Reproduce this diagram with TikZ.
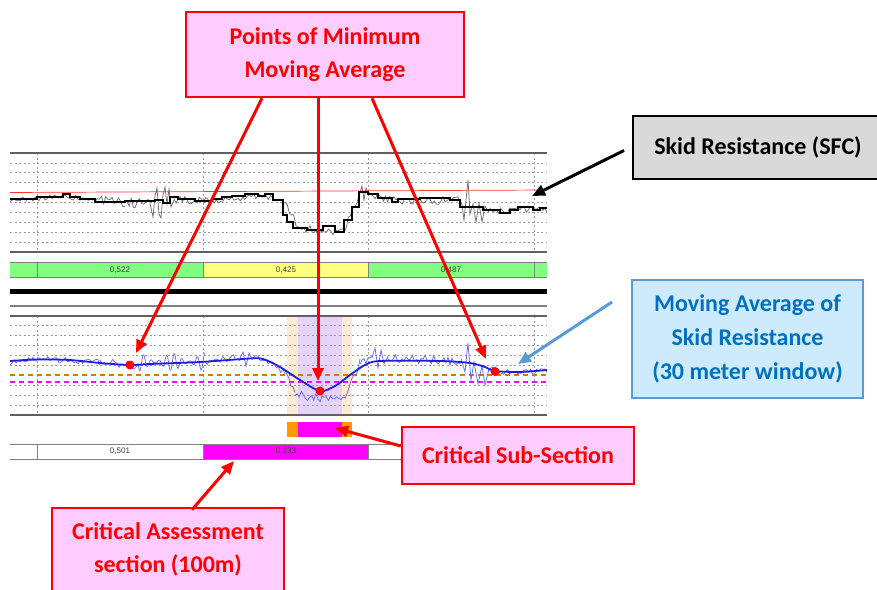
\documentclass[tikz,border=0pt]{standalone}
\usepackage{fontspec}
\setmainfont{Carlito}
\newfontfamily\barfont{Liberation Sans}
\usetikzlibrary{arrows.meta}
\definecolor{pinkfill}{HTML}{FFCCFF}
\definecolor{skidgray}{HTML}{D9D9D9}
\definecolor{mafill}{HTML}{CDEBFD}
\definecolor{maborder}{HTML}{5B9BD5}
\definecolor{matext}{HTML}{0070C0}
\definecolor{bargreen}{HTML}{80FF80}
\definecolor{baryellow}{HTML}{FFFF80}
\definecolor{magentafill}{HTML}{FF00FF}
\definecolor{orangefill}{HTML}{FF9900}
\definecolor{peach}{HTML}{FDEAD5}
\definecolor{lavender}{HTML}{E6D3FA}
\definecolor{dashorange}{HTML}{D07A10}
\definecolor{mablue}{HTML}{1E1EE0}
\definecolor{noiseblue}{HTML}{6A6AF0}
\definecolor{noisegraycol}{HTML}{6E6E6E}
\definecolor{gridgray}{HTML}{9A9A9A}
\definecolor{axisgray}{HTML}{606060}
\def\skidpath{(10,199)--(37,199)--(37,197)--(63,197)--(63,194)--(70,194)--(70,197)--(80,197)--(80,199)--(95,199)--(95,202)--(125,202)--(125,201)--(155,201)--(155,200)--(163,200)--(163,203)--(170,203)--(170,197)--(178,197)--(178,199)--(195,199)--(195,201)--(212,201)--(212,199)--(222,199)--(222,197)--(232,197)--(232,196)--(245,196)--(245,194)--(258,194)--(258,196)--(265,196)--(265,194)--(273,194)--(273,200)--(283,200)--(283,215)--(287,215)--(287,222)--(293,222)--(293,228)--(307,228)--(307,230)--(323,230)--(323,226)--(335,226)--(335,232)--(344,232)--(344,220)--(352,220)--(352,207)--(359,207)--(359,192)--(368,192)--(368,194)--(378,194)--(378,198)--(392,198)--(392,202)--(398,202)--(398,199)--(420,199)--(420,198)--(450,198)--(450,200)--(460,200)--(460,207)--(483,207)--(483,210)--(500,210)--(500,213)--(510,213)--(510,210)--(518,210)--(518,207)--(533,207)--(533,210)--(540,210)--(540,208)--(547,208)}
\begin{document}
\begin{tikzpicture}[x=1pt,y=-1pt,
  callout/.style={draw=red,line width=2.5pt,fill=pinkfill,text=red,
    font=\fontsize{24}{33}\selectfont\bfseries,align=center,inner sep=0pt},
  redarrow/.style={draw=red,line width=3pt,-{Triangle[length=13pt,width=11pt]}},
  gridline/.style={draw=gridgray,line width=0.8pt,dash pattern=on 2pt off 2.5pt},
  axisline/.style={draw=axisgray,line width=1.6pt},
  barcell/.style={draw=gray,line width=0.7pt},
  barlabel/.style={font=\barfont\fontsize{8}{9}\selectfont,text=black!75,inner sep=0pt},
  reddot/.style={fill=red,draw=none},
  noisegray/.style={draw=noisegraycol,line width=0.75pt},
  noiseb/.style={draw=noiseblue,line width=0.75pt}]
\useasboundingbox (0,0) rectangle (877,589);
\pgfmathsetseed{4242}

% ---------- panel 1 ----------
\foreach \yy in {163,172,182,202,212,222,232,242}
  \draw[gridline] (10,\yy) -- (547,\yy);
\foreach \xx in {37,203,368,534}
  \draw[gridline] (\xx,153) -- (\xx,252);
\draw[axisline] (10,153) -- (547,153);
\draw[axisline] (10,252) -- (547,252);
\draw[red!80,line width=0.7pt] (10,192.5) -- (547,190);
% gray raw data (noise around a base line)
\foreach \xa/\ya/\xb/\yb/\am in {10/200/37/199/2.5, 37/199/63/196/2.5, 63/196/95/199/3, 95/199/125/203/4, 125/203/150/203/5, 174/200/212/201/4, 212/201/258/196/3, 258/196/283/200/3, 283/200/298/226/4, 298/226/320/232/4, 320/232/344/231/4, 344/231/359/196/4, 369/195/398/201/4, 398/201/460/200/4, 488/211/518/209/4, 518/209/547/210/3}
{
  \pgfmathtruncatemacro\ns{(\xb-\xa)/2.2+2}
  \draw[noisegray] plot[domain=\xa:\xb,samples=\ns] (\x,{\ya+(\yb-\ya)*(\x-\xa)/(\xb-\xa)+\am*rand});
}
\draw[noisegray] (150,203) -- (151,208) -- (153,217) -- (155,196) -- (157,188) -- (159,214) -- (161,218) -- (163,195) -- (165,187) -- (167,204) -- (169,189) -- (171,207) -- (174,200);
\draw[noisegray] (359,196) -- (362,186) -- (364,200) -- (366,188) -- (369,195);
\draw[noisegray] (460,200) -- (462,205) -- (464,220) -- (466,200) -- (468,180) -- (470,214) -- (473,204) -- (476,222) -- (479,203) -- (482,222) -- (485,206) -- (488,211);
% black step line
\draw[black,line width=2.2pt,line join=miter] \skidpath;

% bar 1
\fill[bargreen] (10,262) rectangle (203,277);
\fill[baryellow] (203,262) rectangle (368,277);
\fill[bargreen] (368,262) rectangle (547,277);
\draw[barcell] (10,262) -- (547,262) (10,277) -- (547,277);
\foreach \xx in {37,203,368,534} \draw[barcell] (\xx,262) -- (\xx,277);
\node[barlabel] (l1) at (120,270) {0,522};
\node[barlabel] (l2) at (286,270) {0,425};
\node[barlabel] (l3) at (451,270) {0,487};

% separator lines
\draw[black,line width=5pt] (10,291.5) -- (547,291.5);
\draw[draw=gray,line width=1.2pt] (10,306) -- (547,306);

% ---------- panel 2 ----------
\fill[peach] (287,316) rectangle (352,415);
\fill[lavender] (298,316) rectangle (342,415);
\foreach \yy in {325,335,345,355,365,385,395,405}
  \draw[gridline] (10,\yy) -- (547,\yy);
\foreach \xx in {37,203,368,534}
  \draw[gridline] (\xx,316) -- (\xx,415);
\draw[axisline] (10,316) -- (547,316);
\draw[axisline] (10,415) -- (547,415);
\draw[dashorange,line width=1.4pt,dash pattern=on 5pt off 4pt] (10,375) -- (547,375);
\draw[magentafill,line width=2.2pt,dash pattern=on 5pt off 4pt] (10,382) -- (547,382);
% noisy moving data
\foreach \xa/\ya/\xb/\yb/\am in {10/362/37/359/3, 37/359/100/362/3, 100/362/138/366/4, 205/361/240/358/4, 252/359/270/360/4, 270/360/285/372/4, 285/372/295/394/4, 295/394/320/398/4.5, 320/398/345/397/4.5, 345/397/360/362/4, 360/362/372/358/4, 387/358/440/360/4.5, 440/360/462/362/4, 489/369/520/373/3.5, 520/373/547/370/3}
{
  \pgfmathtruncatemacro\ns{(\xb-\xa)/2.2+2}
  \draw[noiseb] plot[domain=\xa:\xb,samples=\ns] (\x,{\ya+(\yb-\ya)*(\x-\xa)/(\xb-\xa)+\am*rand});
}
\draw[noiseb] plot[domain=138:205,samples=68] (\x,{362+9*sin(47*\x)*(0.55+0.45*sin(11*\x))});
\draw[noiseb] (240,358) -- (243,352) -- (246,366) -- (249,353) -- (252,359);
\draw[noiseb] (372,358) -- (375,348) -- (378,368) -- (381,350) -- (384,364) -- (387,358);
\draw[noiseb] (462,362) -- (465,372) -- (468,343) -- (471,380) -- (474,362) -- (478,384) -- (482,366) -- (485,385) -- (489,369);
% smooth moving average
\draw[mablue,line width=1.8pt] plot[smooth] coordinates {(10,361) (37,359.5) (70,360) (100,363) (130,365) (150,364) (200,362) (250,358.5) (263,359) (280,367) (300,380) (320,391) (335,386) (350,375) (365,365) (380,361) (440,361) (470,363) (485,367) (495,371) (520,372) (547,370)};
% red dots
\fill[reddot] (130,365) circle (4.5pt);
\fill[reddot] (320,391) circle (4.5pt);
\fill[reddot] (495,371.5) circle (4.5pt);

% sub bar
\fill[orangefill] (287,422) rectangle (298,437);
\fill[magentafill] (298,422) rectangle (342,437);
\fill[orangefill] (342,422) rectangle (352,437);

% bar 2
\fill[white] (10,444) rectangle (547,459);
\fill[magentafill] (203,444) rectangle (368,459);
\draw[barcell] (10,444) -- (547,444) (10,459) -- (547,459);
\foreach \xx in {37,203,368,534} \draw[barcell] (\xx,444) -- (\xx,459);
\node[barlabel] (l4) at (120,451.5) {0,501};
\node[barlabel] (l5) at (286,451.5) {0,233};

% ---------- callouts ----------
\node[callout,minimum width=278pt,minimum height=85pt] (pmin) at (325,54.5) {Points of Minimum\\Moving Average};
\node[draw=black,line width=2pt,fill=skidgray,text=black,font=\fontsize{24}{33}\selectfont\bfseries,
  minimum width=250pt,minimum height=63pt,inner sep=0pt,anchor=west] (skid) at (632,147.5) {Skid Resistance (SFC)};
\node[draw=maborder,line width=2pt,fill=mafill,text=matext,font=\fontsize{24}{34}\selectfont\bfseries,
  align=center,minimum width=231pt,minimum height=118pt,inner sep=0pt] (ma) at (747.5,339) {Moving Average of\\Skid Resistance\\(30 meter window)};
\node[callout,minimum width=232pt,minimum height=57pt] (sub) at (518,455.5) {Critical Sub-Section};
\node[callout,minimum width=232pt,minimum height=83pt] (ass) at (168,549.5) {Critical Assessment\\section (100m)};

% ---------- targets ----------
\coordinate (t1) at (136,353);
\coordinate (t2) at (318,381);
\coordinate (t3) at (486,359);
\coordinate (t4) at (335,428);
\coordinate (t5) at (234,461);
\coordinate (t6) at (532,196);
\coordinate (t7) at (518,364);

\draw[redarrow] ([xshift=-63pt]pmin.south) -- (t1);
\draw[redarrow] ([xshift=-7pt]pmin.south) -- (t2);
\draw[redarrow] ([xshift=47pt]pmin.south) -- (t3);
\draw[redarrow] ([yshift=9.5pt]sub.west) -- (t4);
\draw[redarrow] ([xshift=24pt,yshift=-3pt]ass.north) -- (t5);
\draw[black,line width=3pt,-{Triangle[length=13pt,width=11pt]}] ([xshift=-8pt,yshift=-3pt]skid.west) -- (t6);
\draw[maborder,line width=3pt,-{Triangle[length=13pt,width=11pt]}] ([xshift=-19pt,yshift=37pt]ma.west) -- (t7);
\end{tikzpicture}
\end{document}
